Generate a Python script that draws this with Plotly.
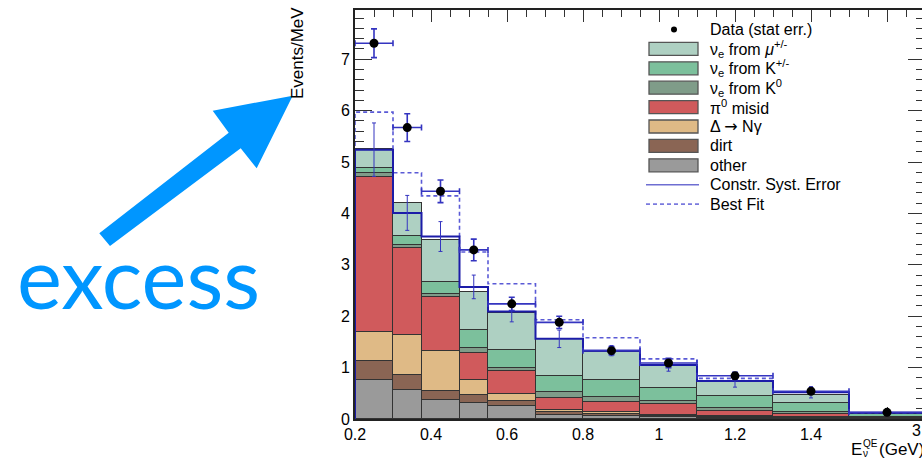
import plotly.graph_objects as go

# ---- binning (GeV) and display mapping (last bin is drawn compressed) ----
edges_gev = [0.2, 0.3, 0.375, 0.475, 0.55, 0.675, 0.8, 0.95, 1.1, 1.3, 1.5, 3.0]

# ---- stacked background components, Events/MeV per bin ----
other = [0.76, 0.57, 0.375, 0.32, 0.25, 0.08, 0.05, 0.03, 0.02, 0.01, 0.003]
dirt = [0.36, 0.29, 0.175, 0.14, 0.11, 0.05, 0.05, 0.02, 0.02, 0.01, 0.003]
delta_ngamma = [0.58, 0.78, 0.78, 0.29, 0.13, 0.05, 0.03, 0.02, 0.01, 0.01, 0.004]
pi0_misid = [3.00, 1.69, 1.04, 0.53, 0.44, 0.23, 0.21, 0.22, 0.11, 0.06, 0.015]
nue_k0 = [0.09, 0.06, 0.07, 0.10, 0.06, 0.11, 0.09, 0.07, 0.05, 0.04, 0.015]
nue_kpm = [0.09, 0.18, 0.22, 0.36, 0.36, 0.31, 0.32, 0.24, 0.23, 0.18, 0.05]
nue_mu = [0.38, 0.63, 0.82, 0.74, 0.71, 0.72, 0.56, 0.43, 0.29, 0.16, 0.015]

# ---- data, constrained prediction and best fit ----
data = [7.31, 5.67, 4.43, 3.29, 2.24, 1.88, 1.33, 1.09, 0.84, 0.54, 0.13]
data_err = [0.28, 0.27, 0.22, 0.21, 0.13, 0.12, 0.08, 0.09, 0.07, 0.05, 0.02]
constr = [5.24, 4.01, 3.55, 2.57, 2.09, 1.56, 1.33, 1.05, 0.74, 0.52, 0.12]
syst_err = [0.52, 0.34, 0.29, 0.23, 0.20, 0.17, 0.10, 0.12, 0.12, 0.11, 0.02]
best_fit = [5.97, 4.79, 4.34, 3.25, 2.63, 1.93, 1.58, 1.17, 0.79, 0.53, 0.12]

x_ticks = [0.2, 0.4, 0.6, 0.8, 1.0, 1.2, 1.4, 1.6]
x_ticktext = ["0.2", "0.4", "0.6", "0.8", "1", "1.2", "1.4", ""]


def disp(e):
    """Energy -> axis coordinate; the 1.5-3 GeV bin is squeezed to 0.2 wide."""
    return e if e <= 1.5 else 1.5 + (e - 1.5) * 0.2 / 1.5


edges = [disp(e) for e in edges_gev]
centers = [(a + b) / 2 for a, b in zip(edges[:-1], edges[1:])]
widths = [b - a for a, b in zip(edges[:-1], edges[1:])]
half = [w / 2 for w in widths]

# ---- figure geometry ----
W, H = 922, 464
PL, PR, PT, PB = 355, 922, 10, 419
PX_PER_GEV = 380.0
PX_PER_UNIT = 51.4
x_range = [0.2, 0.2 + (PR - PL) / PX_PER_GEV]
y_range = [0, (PB - PT) / PX_PER_UNIT]


def px(x):
    return (x - PL) / (PR - PL)


def py(y):
    return (PB - y) / (PB - PT)


FONT = "Liberation Sans, Arial, sans-serif"
OUTLINE = "#333333"
BLUE = "#1c1ca8"
BLUE_ERR = "#3434c0"
BLUE_DASH = "#5a5ad6"

components = [
    ("other", other, "#9a9a9a"),
    ("dirt", dirt, "#8a6554"),
    ("Δ <span style=\"font-family:'DejaVu Sans'\">→</span> Nγ", delta_ngamma, "#dfba86"),
    ("π<sup>0</sup> misid", pi0_misid, "#d05a5c"),
    ("ν<sub>e</sub> from K<sup>0</sup>", nue_k0, "#7f9c89"),
    ("ν<sub>e</sub> from K<sup>+/-</sup>", nue_kpm, "#7cc09c"),
    ("ν<sub>e</sub> from <i>μ</i><sup>+/-</sup>", nue_mu, "#aed0c2"),
]

fig = go.Figure()

for name, vals, col in components:
    fig.add_trace(go.Bar(
        x=centers, y=vals, width=widths,
        marker=dict(color=col, line=dict(color=OUTLINE, width=1.3)),
        showlegend=False,
    ))

step_x = [edges[0]] + edges

fig.add_trace(go.Scatter(
    x=step_x, y=[0] + best_fit + [best_fit[-1]], mode="lines",
    line=dict(color=BLUE_DASH, width=1.6, dash="4px,3px", shape="hv"),
    showlegend=False,
))
fig.add_trace(go.Scatter(
    x=step_x, y=[0] + constr + [constr[-1]], mode="lines",
    line=dict(color=BLUE, width=2, shape="hv"),
    showlegend=False,
))
fig.add_trace(go.Scatter(
    x=centers, y=constr, mode="markers",
    marker=dict(size=1, opacity=0),
    error_y=dict(type="data", array=syst_err, color=BLUE_ERR, thickness=1, width=2),
    showlegend=False,
))
fig.add_trace(go.Scatter(
    x=centers, y=data, mode="markers",
    marker=dict(size=9, color="black"),
    error_x=dict(type="data", array=half, color=BLUE_ERR, thickness=1.6, width=3),
    error_y=dict(type="data", array=data_err, color=BLUE_ERR, thickness=1.6, width=3),
    showlegend=False,
))
# carrier for the mirrored right-hand tick axis
fig.add_trace(go.Scatter(x=[None], y=[None], yaxis="y2", showlegend=False))

shapes = []
annotations = []

# ---- legend ----
legend_rows = [("marker", "Data (stat err.)", "black")]
legend_rows += [("box", n, c) for n, _, c in components[::-1]]
legend_rows += [("line", "Constr. Syst. Error", "#6e6ed2"), ("dash", "Best Fit", "#7a7ade")]
SW0, SW1, TX = 649, 698, 708
for i, (kind, label, col) in enumerate(legend_rows):
    yc = 29.5 + 19.4 * i
    if kind == "box":
        shapes.append(dict(type="rect", xref="paper", yref="paper",
                           x0=px(SW0), x1=px(SW1), y0=py(yc + 6.5), y1=py(yc - 6.5),
                           fillcolor=col, line=dict(color="#555555", width=1.3)))
    elif kind == "marker":
        shapes.append(dict(type="circle", xref="paper", yref="paper",
                           x0=px(671), x1=px(677), y0=py(yc + 3), y1=py(yc - 3),
                           fillcolor="black", line=dict(color="black", width=0)))
    else:
        shapes.append(dict(type="line", xref="paper", yref="paper",
                           x0=px(SW0 - 3), x1=px(SW1 + 1), y0=py(yc), y1=py(yc),
                           line=dict(color=col, width=1.6,
                                     dash="solid" if kind == "line" else "4px,3px")))
    annotations.append(dict(xref="paper", yref="paper", x=px(TX), y=py(yc),
                            xanchor="left", yanchor="middle", showarrow=False,
                            text=label, font=dict(family=FONT, size=16, color="black")))

# ---- axis extras ----
annotations.append(dict(xref="paper", yref="paper", x=px(916), y=py(431),
                        xanchor="center", yanchor="middle", showarrow=False,
                        text="3", font=dict(family=FONT, size=16, color="black")))
annotations.append(dict(xref="paper", yref="paper", x=px(298), y=py(53),
                        xanchor="center", yanchor="middle", showarrow=False, textangle=-90,
                        text="Events/MeV", font=dict(family=FONT, size=17, color="black")))
annotations.append(dict(xref="paper", yref="paper", x=px(849), y=py(449),
                        xanchor="left", yanchor="middle", showarrow=False,
                        text="E", font=dict(family=FONT, size=17, color="black")))
annotations.append(dict(xref="paper", yref="paper", x=px(861), y=py(443),
                        xanchor="left", yanchor="middle", showarrow=False,
                        text="QE", font=dict(family=FONT, size=10, color="black")))
annotations.append(dict(xref="paper", yref="paper", x=px(861), y=py(454),
                        xanchor="left", yanchor="middle", showarrow=False,
                        text="ν", font=dict(family=FONT, size=10, color="black")))
annotations.append(dict(xref="paper", yref="paper", x=px(877), y=py(449),
                        xanchor="left", yanchor="middle", showarrow=False,
                        text="(GeV)", font=dict(family=FONT, size=17, color="black")))

# ---- the "excess" callout ----
EXCESS = "#0096ff"
arrow_pts = [(99.3, 233.3), (228.7, 132.7), (212.7, 110.7), (292.7, 95.7),
             (256.7, 168.3), (240.7, 148.3), (110.0, 246.0)]
path = "M " + " L ".join(f"{px(a):.5f},{py(b):.5f}" for a, b in arrow_pts) + " Z"
shapes.append(dict(type="path", xref="paper", yref="paper", path=path,
                   fillcolor=EXCESS, line=dict(color=EXCESS, width=0)))
annotations.append(dict(xref="paper", yref="paper", x=px(138), y=py(276),
                        xanchor="center", yanchor="middle", showarrow=False,
                        text="excess", font=dict(family="Lato, sans-serif", size=85, color=EXCESS)))

axis_common = dict(showgrid=False, zeroline=False, color="black", layer="below traces")

fig.update_layout(
    width=W, height=H,
    margin=dict(l=PL, r=W - PR, t=PT, b=H - PB, pad=0),
    paper_bgcolor="white", plot_bgcolor="white",
    barmode="stack", bargap=0, showlegend=False,
    font=dict(family=FONT, size=16, color="black"),
    xaxis=dict(
        **axis_common, range=x_range,
        tickmode="array", tickvals=x_ticks, ticktext=x_ticktext,
        ticks="inside", ticklen=12, tickwidth=1.4, tickcolor=OUTLINE,
        minor=dict(ticks="inside", ticklen=7, tickwidth=1.2, tickcolor=OUTLINE,
                   tickmode="linear", tick0=0.2, dtick=0.05),
        showline=True, linewidth=2, linecolor="#222222", mirror="ticks",
        tickfont=dict(family=FONT, size=16, color="black"),
    ),
    yaxis=dict(
        **axis_common, range=y_range,
        tickmode="linear", tick0=0, dtick=1,
        ticks="inside", ticklen=17, tickwidth=1.4, tickcolor=OUTLINE,
        minor=dict(ticks="inside", ticklen=9, tickwidth=1.2, tickcolor=OUTLINE,
                   tickmode="linear", tick0=0, dtick=0.2),
        showline=True, linewidth=2, linecolor="#222222", mirror=False,
        tickfont=dict(family=FONT, size=16, color="black"),
    ),
    yaxis2=dict(
        overlaying="y", side="right", range=y_range, showgrid=False, zeroline=False,
        tickmode="linear", tick0=0, dtick=1, showticklabels=False,
        ticks="inside", ticklen=14, tickwidth=1.4, tickcolor=OUTLINE,
        minor=dict(ticks="inside", ticklen=6, tickwidth=1.2, tickcolor=OUTLINE,
                   tickmode="linear", tick0=0, dtick=0.2),
        showline=False,
    ),
    shapes=shapes,
    annotations=annotations,
)

fig.write_html("out.html")
